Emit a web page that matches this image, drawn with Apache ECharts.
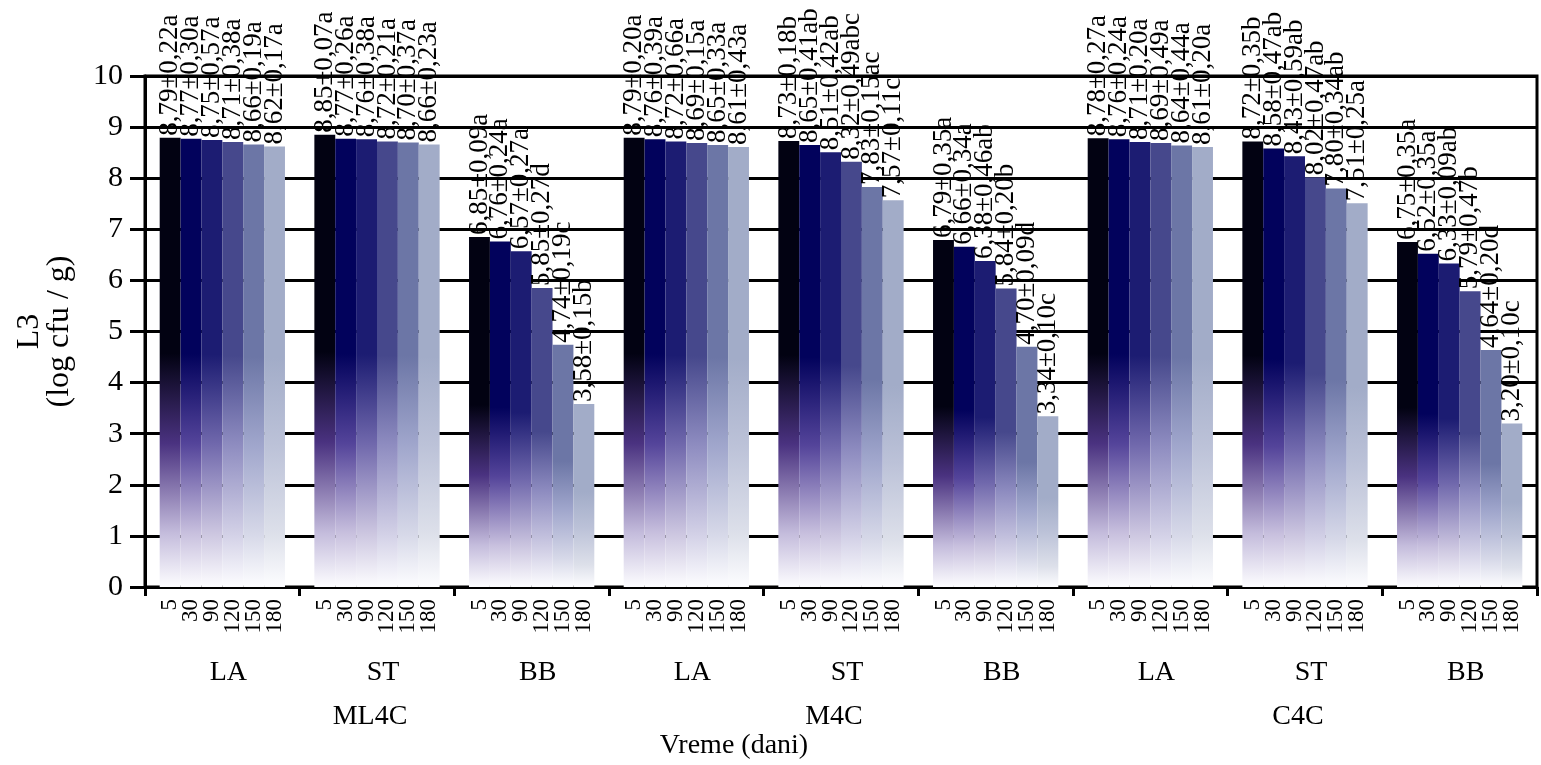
<!DOCTYPE html>
<html>
<head>
<meta charset="utf-8">
<script src="https://cdn.jsdelivr.net/npm/echarts@6/dist/echarts.min.js"></script>
<style>
html,body{margin:0;padding:0;background:#fff;}
#chart{width:1541px;height:765px;}
</style>
</head>
<body>
<div id="chart"></div>
<script>
// ---- data ----
const categories = ['LA', 'ST', 'BB', 'LA', 'ST', 'BB', 'LA', 'ST', 'BB'];
const groups = ['ML4C', 'M4C', 'C4C'];
const days = ['5', '30', '90', '120', '150', '180'];
const yTicks = [0, 1, 2, 3, 4, 5, 6, 7, 8, 9, 10];

const mean5   = [8.79, 8.85, 6.85, 8.79, 8.73, 6.79, 8.78, 8.72, 6.75];
const mean30  = [8.77, 8.77, 6.76, 8.76, 8.65, 6.66, 8.76, 8.58, 6.52];
const mean90  = [8.75, 8.76, 6.57, 8.72, 8.51, 6.38, 8.71, 8.43, 6.33];
const mean120 = [8.71, 8.72, 5.85, 8.69, 8.32, 5.84, 8.69, 8.02, 5.79];
const mean150 = [8.66, 8.70, 4.74, 8.65, 7.83, 4.70, 8.64, 7.80, 4.64];
const mean180 = [8.62, 8.66, 3.58, 8.61, 7.57, 3.34, 8.61, 7.51, 3.20];

const sd5   = [0.22, 0.07, 0.09, 0.20, 0.18, 0.35, 0.27, 0.35, 0.35];
const sd30  = [0.30, 0.26, 0.24, 0.39, 0.41, 0.34, 0.24, 0.47, 0.35];
const sd90  = [0.57, 0.38, 0.27, 0.66, 0.42, 0.46, 0.20, 0.59, 0.09];
const sd120 = [0.38, 0.21, 0.27, 0.15, 0.49, 0.20, 0.49, 0.47, 0.47];
const sd150 = [0.19, 0.37, 0.19, 0.33, 0.15, 0.09, 0.44, 0.34, 0.20];
const sd180 = [0.17, 0.23, 0.15, 0.43, 0.11, 0.10, 0.20, 0.25, 0.10];

const let5   = ['a', 'a', 'a', 'a', 'b', 'a', 'a', 'b', 'a'];
const let30  = ['a', 'a', 'a', 'a', 'ab', 'a', 'a', 'ab', 'a'];
const let90  = ['a', 'a', 'a', 'a', 'ab', 'ab', 'a', 'ab', 'ab'];
const let120 = ['a', 'a', 'd', 'a', 'abc', 'b', 'a', 'ab', 'b'];
const let150 = ['a', 'a', 'c', 'a', 'ac', 'd', 'a', 'ab', 'd'];
const let180 = ['a', 'a', 'b', 'a', 'c', 'c', 'a', 'a', 'c'];

const means = [mean5, mean30, mean90, mean120, mean150, mean180];
const sds = [sd5, sd30, sd90, sd120, sd150, sd180];
const letters = [let5, let30, let90, let120, let150, let180];

// ---- styles ----
const topColors   = ['#020212', '#02025c', '#1c1c72', '#46488c', '#6c76a6', '#a2acc8'];
const midColors   = ['#4a3280', '#54449a', '#7068ac', '#8e8cc0', '#a0a6cc', '#bcc2d8'];
const lightColors = ['#c4bcdc', '#c8c0de', '#ccc6e0', '#d2d0e6', '#d6d8e8', '#dde0ea'];
const FONT = '"Liberation Serif", "Times New Roman", serif';

function fmt(v) { return v.toFixed(2).replace('.', ','); }

const series = [];
means.forEach((m, i) => {
  series.push({
    name: days[i],
    type: 'bar',
    xAxisIndex: 0,
    barGap: '0%',
    barCategoryGap: '19%',
    z: 3,
    data: m,
    itemStyle: {
      color: {
        type: 'linear', x: 0, y: 0, x2: 0, y2: 1,
        colorStops: [
          { offset: 0, color: topColors[i] },
          { offset: 0.48, color: topColors[i] },
          { offset: 0.68, color: midColors[i] },
          { offset: 0.88, color: lightColors[i] },
          { offset: 1, color: '#fdfdff' }
        ]
      }
    },
    label: {
      show: true,
      position: 'top',
      rotate: 90,
      align: 'left',
      verticalAlign: 'middle',
      distance: 2,
      color: '#000',
      fontFamily: FONT,
      fontSize: 27,
      formatter: p => fmt(m[p.dataIndex]) + '±' + fmt(sds[i][p.dataIndex]) + letters[i][p.dataIndex]
    }
  });
});
// day tick labels under each bar (anchored to zero-height bars on a hidden twin axis)
days.forEach((d, i) => {
  series.push({
    name: 'day' + d,
    type: 'bar',
    xAxisIndex: 1,
    barGap: '0%',
    barCategoryGap: '19%',
    silent: true,
    data: categories.map(() => 0),
    itemStyle: { color: 'rgba(0,0,0,0)' },
    label: {
      show: true,
      position: 'bottom',
      rotate: 90,
      align: 'right',
      verticalAlign: 'middle',
      distance: 12,
      color: '#000',
      fontFamily: FONT,
      fontSize: 23,
      formatter: () => d
    }
  });
});

const chart = echarts.init(document.getElementById('chart'), null, { renderer: 'canvas' });
chart.setOption({
  animation: false,
  backgroundColor: '#fff',
  grid: { left: 145, right: 4, top: 76, bottom: 175, show: true, borderColor: '#000', borderWidth: 3, backgroundColor: 'transparent' },
  xAxis: [
    {
      type: 'category',
      data: categories,
      axisLine: { lineStyle: { color: '#000', width: 3 } },
      axisTick: { show: true, length: 9, lineStyle: { color: '#000', width: 3 } },
      axisLabel: { margin: 72, color: '#000', fontFamily: FONT, fontSize: 28, padding: [0, 0, 0, 12] },
      name: 'Vreme (dani)',
      nameLocation: 'middle',
      nameGap: 145,
      nameTextStyle: { color: '#000', fontFamily: FONT, fontSize: 28, padding: [0, 214, 0, 0] }
    },
    {
      type: 'category',
      data: categories,
      show: false
    },
    {
      type: 'category',
      data: groups,
      position: 'bottom',
      axisLine: { show: false },
      axisTick: { show: false },
      axisLabel: { margin: 116, color: '#000', fontFamily: FONT, fontSize: 28, padding: [0, 14, 0, 0] }
    }
  ],
  yAxis: {
    type: 'value',
    min: 0,
    max: 10,
    interval: 1,
    name: 'L3\n(log cfu / g)',
    nameLocation: 'middle',
    nameGap: 70,
    nameTextStyle: { color: '#000', fontFamily: FONT, fontSize: 32, lineHeight: 30 },
    axisLine: { show: true, lineStyle: { color: '#000', width: 3 } },
    axisTick: { show: true, length: 15, lineStyle: { color: '#000', width: 3 } },
    axisLabel: { margin: 22, color: '#000', fontFamily: FONT, fontSize: 30, formatter: v => String(v) },
    splitLine: { show: true, lineStyle: { color: '#000', width: 3 } }
  },
  series: series
});
</script>
</body>
</html>
